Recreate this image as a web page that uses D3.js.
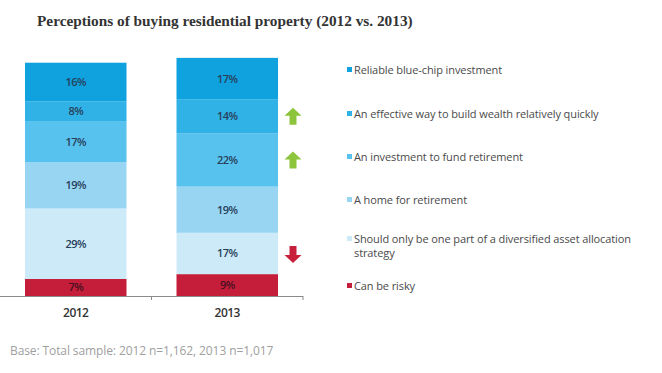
<!DOCTYPE html>
<html><head><meta charset="utf-8">
<script src="https://cdn.jsdelivr.net/npm/d3@7"></script>
<style>html,body{margin:0;padding:0;background:#fff;}svg{display:block;}</style>
</head><body>
<svg id="chart" width="662" height="373"></svg>
<script>
const years = ["2012", "2013"];
const categories = [
  "Can be risky",
  "Should only be one part of a diversified asset allocation strategy",
  "A home for retirement",
  "An investment to fund retirement",
  "An effective way to build wealth relatively quickly",
  "Reliable blue-chip investment"
];
const values2012 = [7, 29, 19, 17, 8, 16];
const values2013 = [9, 17, 19, 22, 14, 17];
const colors = ["#c41e3a", "#cdeaf8", "#98d5f3", "#58c2ee", "#31b2e6", "#0fa2de"];
const legendLines = [
  ["Can be risky"],
  ["Should only be one part of a diversified asset allocation", "strategy"],
  ["A home for retirement"],
  ["An investment to fund retirement"],
  ["An effective way to build wealth relatively quickly"],
  ["Reliable blue-chip investment"]
];
const changes = ["", "down", "", "up", "up", ""];
const title = "Perceptions of buying residential property (2012 vs. 2013)";
const footnote = "Base: Total sample: 2012 n=1,162, 2013 n=1,017";

const svg = d3.select("#chart");
const series = {"2012": values2012, "2013": values2013};

const x = d3.scaleBand().domain(years).range([0, 303]).paddingInner(0.33).paddingOuter(0.165);
const y = d3.scaleLinear().domain([0, 100]).range([296, 53]);

svg.append("text").attr("x", 37).attr("y", 26)
  .attr("font-family", "Liberation Serif, serif").attr("font-weight", "bold")
  .attr("font-size", 15.3).attr("fill", "#333").text(title);

years.forEach(yr => {
  const vals = series[yr];
  let cum = 0;
  const segs = vals.map((v, i) => { const s = {v, i, y0: cum, y1: cum + v}; cum += v; return s; });
  const g = svg.append("g");
  g.selectAll("rect").data(segs).join("rect")
    .attr("x", x(yr)).attr("width", x.bandwidth())
    .attr("y", d => y(d.y1)).attr("height", d => y(d.y0) - y(d.y1))
    .attr("fill", d => colors[d.i]);
  g.selectAll("text").data(segs).join("text")
    .attr("x", x(yr) + x.bandwidth() / 2)
    .attr("y", d => (y(d.y0) + y(d.y1)) / 2 + 4)
    .attr("text-anchor", "middle")
    .attr("font-family", "Open Sans, sans-serif").attr("font-size", 11)
    .attr("font-weight", 600)
    .attr("letter-spacing", -0.6)
    .attr("fill", d => d.i === 0 ? "#4a1020" : "#27405a")
    .text(d => d.v + "%");
});

// axis
const axis = d3.axisBottom(x).tickSize(0).tickPadding(0);
const ag = svg.append("g").attr("transform", "translate(0,296)");
ag.append("line").attr("x1", 0).attr("x2", 303).attr("y1", 0.5).attr("y2", 0.5)
  .attr("stroke", "#8a8a8a").attr("stroke-width", 1.2);
[x.step(), 303].forEach(t => {
  ag.append("line").attr("x1", t).attr("x2", t).attr("y1", 0).attr("y2", 4)
    .attr("stroke", "#8a8a8a").attr("stroke-width", 1);
});
const axg = svg.append("g").attr("transform", "translate(0,296)").call(axis);
axg.select(".domain").remove();
axg.selectAll("text").attr("dy", 0).attr("y", 21)
  .attr("font-family", "Open Sans, sans-serif").attr("font-size", 12)
  .attr("font-weight", 600).attr("letter-spacing", -0.5).attr("fill", "#333");

// arrows next to 2013 bar
const arrowX = 293;
const segs13 = (() => { let c = 0; return values2013.map(v => { const s = [c, c + v]; c += v; return s; }); })();
changes.forEach((ch, i) => {
  if (!ch) return;
  const cy = ch === "down" ? (y(segs13[i][0]) + y(segs13[i][1])) / 2 + 1 : (y(segs13[i][0]) + y(segs13[i][1])) / 2;
  const h = 17, w = 17, sw = 7;
  let pts;
  if (ch === "up") {
    const top = cy - h / 2, mid = top + 8, bot = cy + h / 2;
    pts = [[arrowX, top], [arrowX + w / 2, mid], [arrowX + sw / 2, mid], [arrowX + sw / 2, bot],
           [arrowX - sw / 2, bot], [arrowX - sw / 2, mid], [arrowX - w / 2, mid]];
  } else {
    const top = cy - h / 2, mid = top + 9, bot = cy + h / 2;
    pts = [[arrowX, bot], [arrowX + w / 2, mid], [arrowX + sw / 2, mid], [arrowX + sw / 2, top],
           [arrowX - sw / 2, top], [arrowX - sw / 2, mid], [arrowX - w / 2, mid]];
  }
  svg.append("polygon").attr("points", pts.map(p => p.join(",")).join(" "))
    .attr("fill", ch === "up" ? "#8cc43c" : "#c8203a");
});

// legend
const legendY = [290, 243, 204, 161, 118, 74];
categories.forEach((c, i) => {
  const g = svg.append("g");
  g.append("rect").attr("x", 347).attr("y", legendY[i] - 7).attr("width", 5).attr("height", 5)
    .attr("fill", colors[i]);
  legendLines[i].forEach((ln, j) => {
    g.append("text").attr("x", 354).attr("y", legendY[i] + j * 14)
      .attr("font-family", "Open Sans, sans-serif").attr("font-size", 11)
      .attr("letter-spacing", -0.1).attr("fill", "#4a4a4a").text(ln);
  });
});

svg.append("text").attr("x", 10).attr("y", 355)
  .attr("font-family", "Open Sans, sans-serif").attr("font-size", 12)
  .attr("letter-spacing", -0.1).attr("fill", "#a0a0a0").text(footnote);
</script>
</body></html>
